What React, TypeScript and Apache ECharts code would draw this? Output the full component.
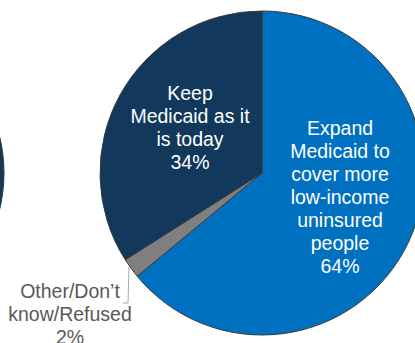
import React, { useEffect, useRef } from "react";
import * as echarts from "echarts";

const categories = [
  "Expand\nMedicaid to\ncover more\nlow-income\nuninsured\npeople",
  "Other/Don\u2019t\nknow/Refused",
  "Keep\nMedicaid as it\nis today",
];
const values = [64, 2, 34];
const colors = ["#0070c0", "#7f7f7f", "#12385b"];

export default function App() {
  const ref = useRef<HTMLDivElement>(null);
  useEffect(() => {
    const chart = echarts.init(ref.current!, null, { renderer: "svg" });
    chart.setOption({
      animation: false,
      backgroundColor: "#ffffff",
      graphic: [
        {
          type: "circle",
          shape: { cx: -151, cy: 173, r: 155 },
          style: { fill: "#12385b", stroke: "#3a3a3a", lineWidth: 1 },
          silent: true,
        },
      ],
      series: [
        {
          type: "pie",
          center: [262, 173],
          radius: 162,
          startAngle: 90,
          clockwise: true,
          avoidLabelOverlap: false,
          itemStyle: { borderColor: "#3a3a3a", borderWidth: 1 },
          data: categories.map((c, i) => ({
            name: c,
            value: values[i],
            itemStyle: { color: colors[i] },
            label:
              i === 1
                ? {
                    position: "outside",
                    color: "#595959",
                  }
                : {
                    position: "inside",
                    color: "#ffffff",
                  },
            labelLine:
              i === 1
                ? { show: true, lineStyle: { color: "#a6a6a6", width: 1 } }
                : { show: false },
          })),
          label: {
            show: true,
            formatter: (p: any) => `${p.name}\n${p.value}%`,
            fontFamily: "Liberation Sans, Arial, sans-serif",
            fontSize: 19.5,
            lineHeight: 23,
            align: "center",
          },
          labelLayout: (p: any) => {
            if (p.dataIndex === 0) {
              return { x: 340, y: 197, align: "center", verticalAlign: "middle" };
            }
            if (p.dataIndex === 2) {
              return { x: 190, y: 127, align: "center", verticalAlign: "middle" };
            }
            return {
              x: 70,
              y: 314,
              align: "center",
              verticalAlign: "middle",
              labelLinePoints: [
                [129, 267],
                [128, 303],
                [123, 303],
              ],
            };
          },
        },
      ],
    });
    return () => chart.dispose();
  }, []);
  return (
    <div
      ref={ref}
      style={{ position: "fixed", left: 0, top: 0, width: 415, height: 343 }}
    />
  );
}
